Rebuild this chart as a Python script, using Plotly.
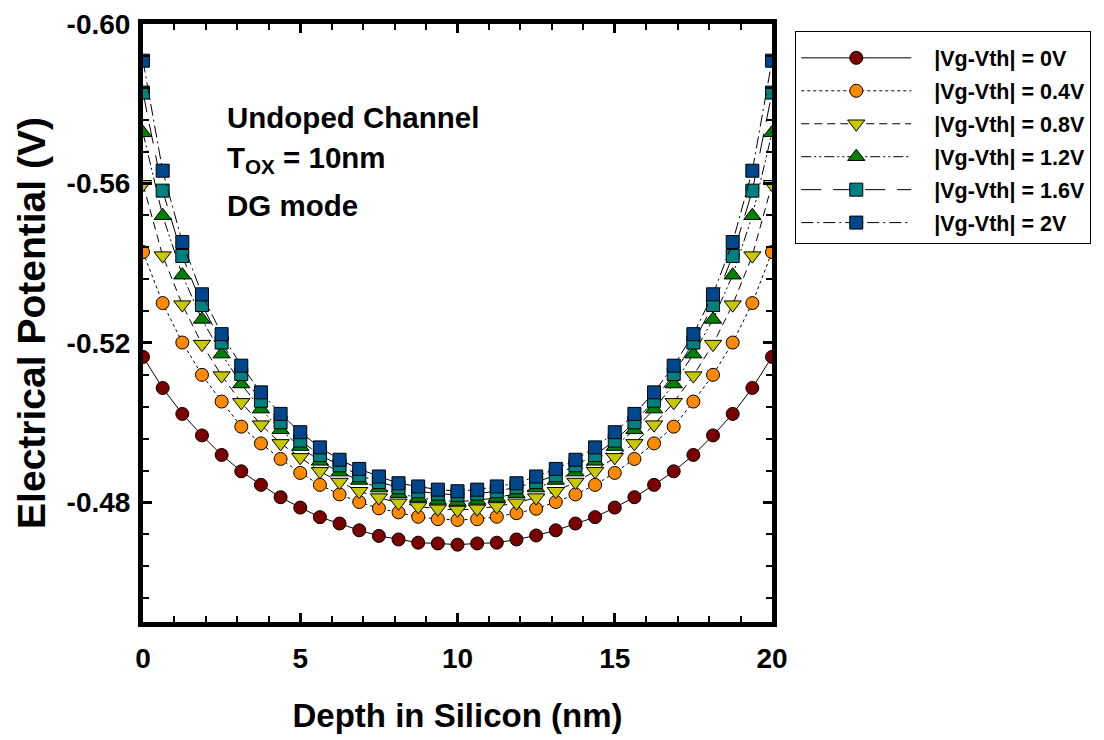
import plotly.graph_objects as go

depth = [i * 0.625 for i in range(33)]

v0 = [-0.5165, -0.5087, -0.5022, -0.4968, -0.4919, -0.4878, -0.4844, -0.4813, -0.4787, -0.4763, -0.4747,
      -0.4730, -0.4716, -0.4707, -0.4699, -0.4697, -0.4694, -0.4697, -0.4699, -0.4707, -0.4717, -0.4730,
      -0.4747, -0.4763, -0.4787, -0.4813, -0.4844, -0.4878, -0.4919, -0.4968, -0.5022, -0.5087, -0.5165]
v04 = [-0.5428, -0.5300, -0.5201, -0.5120, -0.5053, -0.4990, -0.4948, -0.4909, -0.4874, -0.4844, -0.4820,
       -0.4801, -0.4785, -0.4775, -0.4764, -0.4758, -0.4756, -0.4758, -0.4764, -0.4773, -0.4784, -0.4801,
       -0.4820, -0.4844, -0.4874, -0.4909, -0.4948, -0.4990, -0.5053, -0.5120, -0.5201, -0.5300, -0.5428]
v08 = [-0.5598, -0.5419, -0.5296, -0.5197, -0.5118, -0.5051, -0.4995, -0.4948, -0.4913, -0.4878, -0.4851,
       -0.4828, -0.4812, -0.4799, -0.4790, -0.4784, -0.4781, -0.4784, -0.4790, -0.4799, -0.4812, -0.4828,
       -0.4851, -0.4878, -0.4913, -0.4948, -0.4995, -0.5051, -0.5118, -0.5197, -0.5296, -0.5419, -0.5598]
v12 = [-0.5727, -0.5519, -0.5370, -0.5259, -0.5172, -0.5097, -0.5034, -0.4982, -0.4940, -0.4903, -0.4876,
       -0.4855, -0.4836, -0.4822, -0.4812, -0.4805, -0.4802, -0.4805, -0.4812, -0.4822, -0.4836, -0.4855,
       -0.4876, -0.4903, -0.4940, -0.4982, -0.5034, -0.5097, -0.5172, -0.5259, -0.5370, -0.5519, -0.5727]
v16 = [-0.5828, -0.5582, -0.5418, -0.5295, -0.5201, -0.5122, -0.5055, -0.5001, -0.4955, -0.4919, -0.4893,
       -0.4868, -0.4851, -0.4838, -0.4828, -0.4822, -0.4819, -0.4822, -0.4828, -0.4838, -0.4851, -0.4868,
       -0.4893, -0.4919, -0.4955, -0.5001, -0.5055, -0.5122, -0.5201, -0.5295, -0.5418, -0.5582, -0.5828]
v20 = [-0.5908, -0.5632, -0.5453, -0.5322, -0.5222, -0.5143, -0.5076, -0.5022, -0.4976, -0.4938, -0.4907,
       -0.4884, -0.4865, -0.4848, -0.4840, -0.4832, -0.4828, -0.4832, -0.4840, -0.4848, -0.4865, -0.4884,
       -0.4907, -0.4938, -0.4976, -0.5022, -0.5076, -0.5143, -0.5222, -0.5322, -0.5453, -0.5632, -0.5908]

series_names = ["|Vg-Vth| = 0V", "|Vg-Vth| = 0.4V", "|Vg-Vth| = 0.8V",
                "|Vg-Vth| = 1.2V", "|Vg-Vth| = 1.6V", "|Vg-Vth| = 2V"]
series_values = [v0, v04, v08, v12, v16, v20]
colors = ["#7A0000", "#FF8A00", "#C8C800", "#008000", "#008080", "#00468C"]
symbols = ["circle", "circle", "triangle-down", "triangle-up", "square", "square"]
sizes = [13, 13, 15, 15, 13, 13]
dashes = ["solid", "dot", "8px,5px", "10px,3px,2px,3px,2px,3px", "20px,12px", "12px,4px,2px,4px"]

x_ticks = [0, 5, 10, 15, 20]
x_tick_labels = ["0", "5", "10", "15", "20"]
y_ticks = [-0.60, -0.56, -0.52, -0.48]
y_tick_labels = ["-0.60", "-0.56", "-0.52", "-0.48"]
x_range = [0, 20]
y_range = [-0.45, -0.60]

FONT = "Liberation Sans"
NBSP = "\u00a0"
tick_font = dict(family=FONT, size=28, color="black", weight="bold")

fig = go.Figure()
for name, vals, c, s, sz, d in zip(series_names, series_values, colors, symbols, sizes, dashes):
    fig.add_trace(go.Scatter(
        x=depth, y=vals, name=NBSP * 3 + name, mode="lines+markers", legendgroup=name,
        line=dict(color="black", width=1, dash=d),
        marker=dict(symbol=s, size=sz, color=c, line=dict(color="black", width=1)),
    ))
# empty trace so the label-only overlay axes are drawn
fig.add_trace(go.Scatter(x=[None], y=[None], xaxis="x2", yaxis="y2", showlegend=False,
                         hoverinfo="skip", mode="markers"))

axis_common = dict(
    showline=True, linecolor="black", linewidth=5, mirror="allticks",
    ticks="inside", ticklen=9, tickwidth=3, tickcolor="black",
    showgrid=False, zeroline=False, showticklabels=False, automargin=True,
)

fig.update_layout(
    xaxis=dict(
        range=x_range, tickmode="linear", tick0=0, dtick=5,
        minor=dict(dtick=1, ticks="inside", ticklen=6, tickwidth=2, tickcolor="black"),
        title=dict(text="Depth in Silicon (nm)", font=dict(family=FONT, size=33, color="black", weight="bold"),
                   standoff=79),
        **axis_common,
    ),
    yaxis=dict(
        range=y_range, tickmode="linear", tick0=-0.60, dtick=0.04,
        minor=dict(dtick=0.008, ticks="inside", ticklen=6, tickwidth=2, tickcolor="black"),
        title=dict(text="Electrical Potential (V)", font=dict(family=FONT, size=39, color="black", weight="bold"),
                   standoff=82),
        **axis_common,
    ),
    xaxis2=dict(
        range=x_range, overlaying="x", anchor="y", side="bottom",
        tickmode="array", tickvals=x_ticks, ticktext=x_tick_labels,
        ticks="outside", ticklen=11, tickcolor="rgba(0,0,0,0)",
        showline=False, showgrid=False, zeroline=False, automargin=False, tickfont=tick_font,
    ),
    yaxis2=dict(
        range=y_range, overlaying="y", anchor="x", side="left",
        tickmode="array", tickvals=y_ticks, ticktext=y_tick_labels,
        ticks="outside", ticklen=6, tickcolor="rgba(0,0,0,0)",
        showline=False, showgrid=False, zeroline=False, automargin=False, tickfont=tick_font,
    ),
)

ann_font = dict(family=FONT, size=29.5, color="black", weight="bold")
for txt, yp in [("Undoped Channel", 0.844), ("T<sub>OX</sub> = 10nm", 0.773), ("DG mode", 0.697)]:
    fig.add_annotation(x=0.13, y=yp, xref="paper", yref="paper", text=txt, showarrow=False,
                       xanchor="left", yanchor="middle", font=ann_font)

fig.update_layout(
    width=1096, height=732,
    margin=dict(l=135, r=332, t=16, b=118),
    paper_bgcolor="white", plot_bgcolor="white",
    showlegend=True,
    legend=dict(
        x=1.037, y=0.988, xanchor="left", yanchor="top",
        bordercolor="black", borderwidth=1, bgcolor="white",
        font=dict(family=FONT, size=21.5, color="black", weight="bold"),
        title=dict(text=NBSP, font=dict(size=4)),
        itemwidth=110, tracegroupgap=2, itemsizing="trace",
    ),
)

fig.write_html("out.html")
